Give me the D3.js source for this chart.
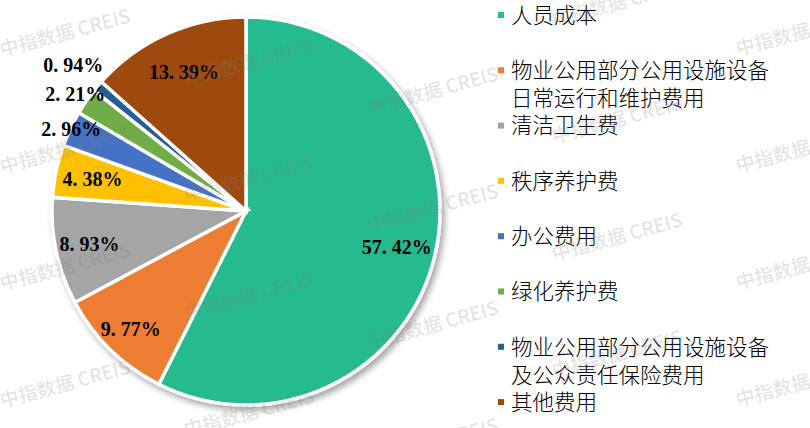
<!DOCTYPE html>
<html>
<head>
<meta charset="utf-8">
<script src="https://cdn.jsdelivr.net/npm/d3@7/dist/d3.min.js"></script>
<style>
  html, body { margin: 0; padding: 0; background: #fff; }
  svg { display: block; }
</style>
</head>
<body>
<svg id="chart" width="810" height="428"></svg>
<script>
// ---- data ----
const categories = [
  "人员成本",
  "物业公用部分公用设施设备日常运行和维护费用",
  "清洁卫生费",
  "秩序养护费",
  "办公费用",
  "绿化养护费",
  "物业公用部分公用设施设备及公众责任保险费用",
  "其他费用"
];
const values = [57.42, 9.77, 8.93, 4.38, 2.96, 2.21, 0.94, 13.39];
const colors = ["#26BB8E", "#ED7D31", "#A5A5A5", "#FFC000", "#4472C4", "#70AD47", "#255E91", "#9E480E"];
// legend lines (wrapped as in the reference)
const legendLines = [
  ["人员成本"],
  ["物业公用部分公用设施设备", "日常运行和维护费用"],
  ["清洁卫生费"],
  ["秩序养护费"],
  ["办公费用"],
  ["绿化养护费"],
  ["物业公用部分公用设施设备", "及公众责任保险费用"],
  ["其他费用"]
];

// ---- layout ----
const W = 810, H = 428;
const cx = 246, cy = 211, R = 194;
const labelRadius = [155, 165, 160, 157, 193, 207, 226, 152];

const svg = d3.select("#chart");
const defs = svg.append("defs");
const f = defs.append("filter").attr("id", "shadow")
  .attr("x", "-10%").attr("y", "-10%").attr("width", "130%").attr("height", "130%");
f.append("feDropShadow").attr("dx", 3).attr("dy", 4).attr("stdDeviation", 3)
  .attr("flood-color", "#000").attr("flood-opacity", 0.35);

const pie = d3.pie().sort(null).value(d => d)(values);
const arc = d3.arc().innerRadius(0).outerRadius(R);

const g = svg.append("g").attr("transform", `translate(${cx},${cy})`);
const slices = g.append("g").attr("filter", "url(#shadow)");
slices.selectAll("path").data(pie).join("path")
  .attr("d", arc)
  .attr("fill", (d, i) => colors[i])
  .attr("stroke", "#fff")
  .attr("stroke-width", 3.5)
  .attr("stroke-linejoin", "miter");

// data labels
const lbl = g.append("g");
pie.forEach((d, i) => {
  const a = (d.startAngle + d.endAngle) / 2;
  const r = labelRadius[i];
  const x = Math.sin(a) * r, y = -Math.cos(a) * r;
  const s = values[i].toFixed(2) + "%";
  const parts = s.split(".");
  const t = lbl.append("text")
    .attr("x", x).attr("y", y).attr("dy", "0.35em")
    .attr("text-anchor", "middle")
    .style("font-family", "'Liberation Serif', 'DejaVu Serif', serif")
    .style("font-weight", "bold")
    .style("font-size", "20px")
    .attr("fill", "#000");
  t.append("tspan").text(parts[0] + ".");
  t.append("tspan").attr("dx", 5).text(parts[1]);
});

// legend
const legendX = 498, legendTextX = 511, legendY0 = 15, legendStep = 55.3, lineH = 28;
const lg = svg.append("g");
categories.forEach((c, i) => {
  const y = legendY0 + i * legendStep;
  lg.append("rect").attr("x", legendX).attr("y", y - 3).attr("width", 6).attr("height", 6)
    .attr("fill", colors[i]);
  const t = lg.append("text")
    .style("font-family", "'Noto Sans CJK SC', sans-serif")
    .style("font-size", "21.5px")
    .style("font-weight", 300)
    .attr("fill", "#000");
  legendLines[i].forEach((ln, k) => {
    t.append("tspan").attr("x", legendTextX).attr("y", y + k * lineH).attr("dy", "0.36em").text(ln);
  });
});

// watermark
const wm = svg.append("g").attr("pointer-events", "none");
for (let i = -1; i <= 5; i++) {
  for (let j = -2; j <= 4; j++) {
    const x = 65 + 184 * i;
    const y = 33 + 29 * i + 117 * j;
    if (x < -80 || x > W + 80 || y < -40 || y > H + 40) continue;
    wm.append("text")
      .attr("transform", `translate(${x},${y}) rotate(-15)`)
      .attr("text-anchor", "middle").attr("dy", "0.35em")
      .style("font-family", "'Noto Sans CJK SC', sans-serif")
      .style("font-weight", 500)
      .style("font-size", "19px")
      .attr("fill", "#808080").attr("fill-opacity", 0.22)
      .text("中指数据 CREIS");
  }
}
</script>
</body>
</html>
